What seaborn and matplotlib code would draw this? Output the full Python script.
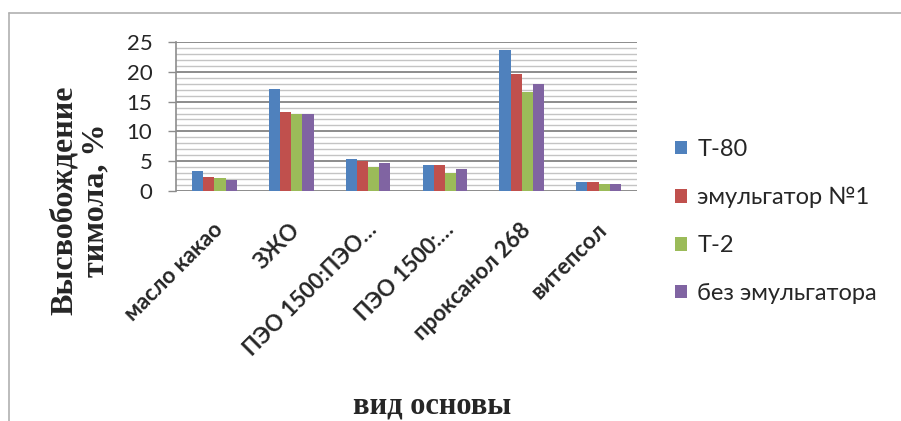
import matplotlib
matplotlib.use("Agg")
import matplotlib.pyplot as plt
from matplotlib.lines import Line2D
from matplotlib.patches import Patch
from matplotlib.transforms import ScaledTranslation
import seaborn as sns
import pandas as pd

# Release of thymol from suppository bases, %
bases = ["масло какао", "ЗЖО", "ПЭО 1500:ПЭО…", "ПЭО 1500:…", "проксанол 268", "витепсол"]
series = ["Т-80", "эмульгатор №1", "Т-2", "без эмульгатора"]
t80 = [3.4, 17.1, 5.3, 4.4, 23.7, 1.5]
emulsifier1 = [2.4, 13.2, 5.1, 4.3, 19.7, 1.5]
t2 = [2.1, 12.9, 4.0, 3.1, 16.6, 1.1]
no_emulsifier = [1.85, 13.0, 4.7, 3.7, 17.9, 1.1]
y_ticks = [0, 5, 10, 15, 20, 25]
colors = ["#4F81BD", "#C0504D", "#9BBB59", "#8064A2"]

rows = []
for name, vals in zip(series, [t80, emulsifier1, t2, no_emulsifier]):
    for b, v in zip(bases, vals):
        rows.append({"основа": b, "серия": name, "значение": v})
df = pd.DataFrame(rows)

sns.set_theme(style="white")
plt.rcParams["font.family"] = ["Lato", "DejaVu Sans"]

fig = plt.figure(figsize=(9.01, 4.21), dpi=100)
ax = fig.add_axes([176 / 901, 1 - 191 / 421, (637 - 176) / 901, (191 - 42) / 421])

sns.barplot(data=df, x="основа", y="значение", hue="серия", order=bases,
            hue_order=series, palette=colors, width=0.58, saturation=1,
            linewidth=0, ax=ax, legend=False, zorder=3)

ax.set_ylim(0, 25)
ax.set_yticks(y_ticks)
ax.set_yticks(range(0, 26), minor=True)
ax.grid(axis="y", which="minor", color="#c4c4c4", linewidth=1.0, zorder=0)
ax.grid(axis="y", which="major", color="#8c8c8c", linewidth=1.4, zorder=0)
ax.set_axisbelow(True)
for s in ["right", "top", "bottom"]:
    ax.spines[s].set_visible(False)
ax.spines["left"].set_color("#8c8c8c")
ax.spines["left"].set_linewidth(1.2)
ax.tick_params(axis="y", which="major", left=True, length=6, width=1.0,
               color="#8c8c8c", pad=11, labelsize=16)
ax.tick_params(axis="y", which="minor", left=False)
ax.tick_params(axis="x", bottom=False, pad=4)
ax.set_xticks(range(len(bases)))
ax.set_xticklabels(bases, rotation=45, ha="right", rotation_mode="anchor",
                   fontsize=16, fontweight="bold")
shift = ScaledTranslation(-2 / 100, -14 / 100, fig.dpi_scale_trans)
for lbl in ax.get_xticklabels():
    lbl.set_transform(lbl.get_transform() + shift)
ax.set_xlabel("")
ax.set_ylabel("")

# axis titles
fig.text(80 / 901, 1 - 200 / 421, "Высвобождение\nтимола, %", rotation=90,
         ha="center", va="center", fontsize=23, fontweight="bold",
         family=["Liberation Serif"], linespacing=1.1)
fig.text(432 / 901, 1 - 406 / 421, "вид основы", ha="center", va="center",
         fontsize=22, fontweight="bold", family=["Liberation Serif"])

# legend
handles = [Patch(facecolor=c, edgecolor="none") for c in colors]
fig.legend(handles, series, loc="upper left", bbox_to_anchor=(675 / 901, 1 - 139 / 421),
           frameon=False, fontsize=17, handlelength=0.5, handleheight=0.5,
           handletextpad=0.45, labelspacing=1.14, borderaxespad=0,
           borderpad=0)

# outer frame of the chart area
fig.add_artist(Line2D([9 / 901, 9 / 901], [0, 1 - 13 / 421], color="#b0b0b0", lw=1.2))
fig.add_artist(Line2D([9 / 901, 1], [1 - 13 / 421, 1 - 13 / 421], color="#b0b0b0", lw=1.2))

fig.savefig("out.png", dpi=100)
